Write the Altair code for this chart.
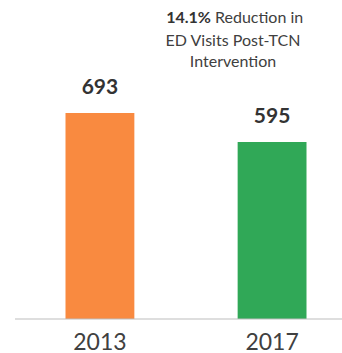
import altair as alt
import pandas as pd

years = ["2013", "2017"]
visits = [693, 595]
colors = ["#F98A40", "#30A857"]

note_bold = ["14.1%"]
note_rest = ["Reduction in"]
note_line2 = ["ED Visits Post-TCN"]
note_line3 = ["Intervention"]

df = pd.DataFrame({"year": years, "visits": visits, "color": colors})

FONT = "Lato"

x = alt.X("year:N", sort=years,
          scale=alt.Scale(range=[65.5, 306.5], paddingInner=0.6, paddingOuter=0),
          axis=alt.Axis(title=None, domain=False, ticks=False, labelAngle=0,
                        labelFontSize=23, labelFont=FONT, labelColor="#404040",
                        labelBaseline="alphabetic", labelPadding=30))
y = alt.Y("visits:Q", scale=alt.Scale(domain=[0, 1073], nice=False, zero=True),
          axis=None)

base = alt.Chart(df)

bars = base.mark_bar().encode(
    x=x, y=y,
    color=alt.Color("color:N", scale=None),
)

labels = base.mark_text(font=FONT, fontSize=21, fontWeight="bold", color="#333333",
                        baseline="alphabetic", dy=-19).encode(
    x=x, y=y, text="visits:Q"
)

baseline = alt.Chart(pd.DataFrame({"v": [0]})).mark_rule(color="#BDBDBD", strokeWidth=1).encode(
    x=alt.value(15), x2=alt.value(342), y=alt.Y("v:Q", scale=alt.Scale(domain=[0, 1073], nice=False), axis=None)
)

def note(texts, x_pos, y_pos, align, bold=False):
    return alt.Chart(pd.DataFrame({"t": texts})).mark_text(
        font=FONT, fontSize=16, fontWeight="bold" if bold else "normal",
        color="#333333" if bold else "#404040", align=align, baseline="alphabetic"
    ).encode(text="t:N", x=alt.value(x_pos), y=alt.value(y_pos))

n1 = note(note_bold, 211, 23, "right", bold=True)
n2 = note(note_rest, 215, 23, "left")
n3 = note(note_line2, 233, 46, "center")
n4 = note(note_line3, 233, 67, "center")

chart = alt.layer(bars, labels, baseline, n1, n2, n3, n4).properties(
    width=342, height=319,
    autosize=alt.AutoSizeParams(type="none"),
    padding={"left": 0, "top": 0, "right": 0, "bottom": 34},
).configure_view(stroke=None).resolve_scale(y="independent")

chart.save("out.html", embed_options={"renderer": "svg", "actions": False})
